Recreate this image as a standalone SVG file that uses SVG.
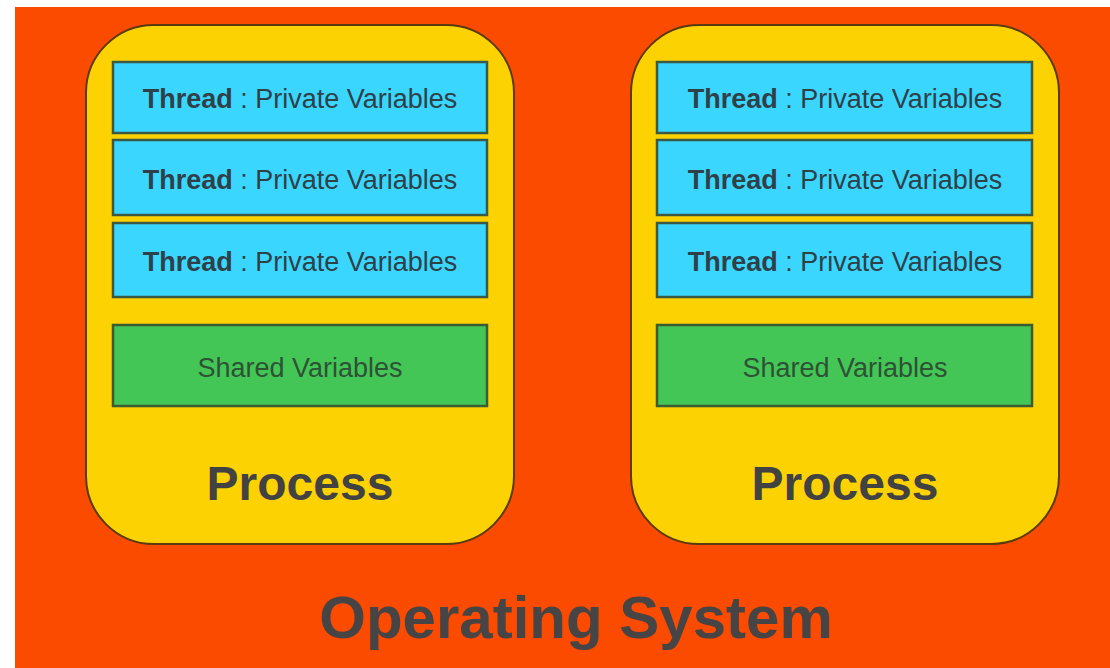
<svg xmlns="http://www.w3.org/2000/svg" width="1110" height="668" viewBox="0 0 1110 668">
  <style>
    .os { fill: #FA4B00; }
    .proc { fill: #FDD202; stroke: #5a3a10; stroke-width: 2; }
    .thread { fill: #3AD6FE; stroke: #3b5a45; stroke-width: 2.5; }
    .shared { fill: #44C657; stroke: #3b5a35; stroke-width: 2.5; }
    .t { font-family: "Liberation Sans", Arial, sans-serif; font-size: 27px; fill: #2f4048; text-anchor: middle; }
    .s { font-family: "Liberation Sans", Arial, sans-serif; font-size: 27px; fill: #2e5234; text-anchor: middle; }
    .pl { font-family: "Liberation Sans", Arial, sans-serif; font-size: 48px; font-weight: bold; fill: #424242; text-anchor: middle; }
    .ol { font-family: "Liberation Sans", Arial, sans-serif; font-size: 60px; font-weight: bold; fill: #464444; text-anchor: middle; }
  </style>

  <rect x="0" y="0" width="1110" height="668" fill="#ffffff"/>
  <rect class="os" x="15" y="7" width="1095" height="661"/>

  <!-- left process -->
  <g id="process-left">
    <rect class="proc" x="86" y="25" width="428" height="519" rx="68" ry="68"/>
    <g id="thread-l1">
      <rect class="thread" x="113" y="62" width="374" height="71"/>
      <text class="t" x="300" y="108"><tspan font-weight="bold">Thread</tspan> : Private Variables</text>
    </g>
    <g id="thread-l2">
      <rect class="thread" x="113" y="140" width="374" height="75"/>
      <text class="t" x="300" y="189"><tspan font-weight="bold">Thread</tspan> : Private Variables</text>
    </g>
    <g id="thread-l3">
      <rect class="thread" x="113" y="223" width="374" height="74"/>
      <text class="t" x="300" y="271"><tspan font-weight="bold">Thread</tspan> : Private Variables</text>
    </g>
    <g id="shared-l">
      <rect class="shared" x="113" y="325" width="374" height="81"/>
      <text class="s" x="300" y="377">Shared Variables</text>
    </g>
    <text class="pl" x="300" y="500">Process</text>
  </g>

  <!-- right process -->
  <g id="process-right">
    <rect class="proc" x="631" y="25" width="428" height="519" rx="68" ry="68"/>
    <g id="thread-r1">
      <rect class="thread" x="657" y="62" width="375" height="71"/>
      <text class="t" x="845" y="108"><tspan font-weight="bold">Thread</tspan> : Private Variables</text>
    </g>
    <g id="thread-r2">
      <rect class="thread" x="657" y="140" width="375" height="75"/>
      <text class="t" x="845" y="189"><tspan font-weight="bold">Thread</tspan> : Private Variables</text>
    </g>
    <g id="thread-r3">
      <rect class="thread" x="657" y="223" width="375" height="74"/>
      <text class="t" x="845" y="271"><tspan font-weight="bold">Thread</tspan> : Private Variables</text>
    </g>
    <g id="shared-r">
      <rect class="shared" x="657" y="325" width="375" height="81"/>
      <text class="s" x="845" y="377">Shared Variables</text>
    </g>
    <text class="pl" x="845" y="500">Process</text>
  </g>

  <g id="connectors"/>

  <text class="ol" x="576" y="638">Operating System</text>
</svg>
